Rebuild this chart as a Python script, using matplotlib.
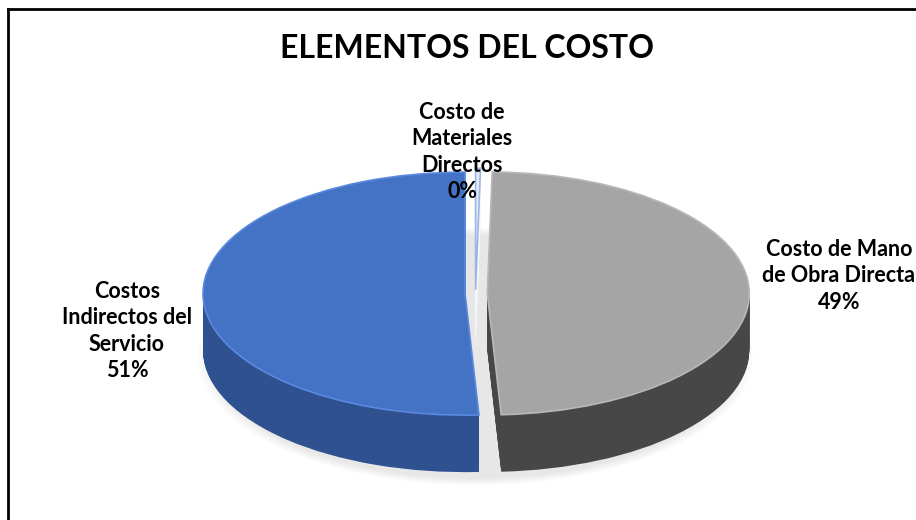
import matplotlib
matplotlib.use("Agg")
import matplotlib.pyplot as plt
from matplotlib.lines import Line2D

# ---- data ----
categories = ["Costo de\nMateriales\nDirectos", "Costo de Mano\nde Obra Directa", "Costos\nIndirectos del\nServicio"]
values = [0.3, 49.0, 51.0]          # share of total cost (materials ~0%)
pct_labels = ["0%", "49%", "51%"]
title = "ELEMENTOS DEL COSTO"

top_colors = ["#e4ebf8", "#a5a5a5", "#4472c4"]
side_colors = ["#f5f7fb", "#474747", "#2f5190"]
rim_colors = ["#9db5e3", "#b8b8b8", "#5a8ae0"]
explode = [0.03, 0.045, 0.04]

W, H = 916, 520
fig = plt.figure(figsize=(W / 100, H / 100), dpi=100)
fig.patch.set_facecolor("white")
ax = fig.add_axes([0, 0, 1, 1])

# ellipse geometry (pixels)
cx, cy, a, b, depth = 475.5, 293.5, 262.0, 121.5, 57.0
d = depth / b
nlayers = 60

# soft shadow
for k in range(8):
    r = 1.06 - k * 0.008
    ax.pie([1], radius=r, center=(0, -d - 0.05), colors=["#000000"],
           wedgeprops=dict(alpha=0.011, linewidth=0))

# side walls: stacked layers
for i in range(nlayers + 1):
    y0 = -d + d * i / nlayers
    ax.pie(values, startangle=90, counterclock=False, explode=explode,
           center=(0, y0), colors=side_colors,
           wedgeprops=dict(linewidth=0))

# top face
ax.pie(values, startangle=90, counterclock=False, explode=explode,
       center=(0, 0), colors=top_colors,
       wedgeprops=dict(linewidth=1.2))
for w, ec in zip(ax.patches[-3:], rim_colors):
    w.set_edgecolor(ec)

ax.set_aspect("auto")
ax.set_xlim((0 - cx) / a, (W - cx) / a)
ax.set_ylim((cy - H) / b, cy / b)
ax.axis("off")

def ftext(x, y, s, **kw):
    fig.text(x / W, 1 - y / H, s, **kw)

font = "Lato"
ftext(467, 48, title, ha="center", va="center", fontsize=23,
      fontweight="bold", family=font, color="black")

lab_kw = dict(ha="center", va="center", fontsize=15.5, fontweight="bold",
              family=font, color="black", linespacing=1.33)
ftext(462, 152, categories[0] + "\n" + pct_labels[0], **lab_kw)
ftext(839, 276, categories[1] + "\n" + pct_labels[1], **lab_kw)
ftext(127, 331, categories[2] + "\n" + pct_labels[2], **lab_kw)

# chart frame (left & top edges visible)
fig.add_artist(Line2D([8 / W, 8 / W], [0, 1 - 9 / H], transform=fig.transFigure,
                      color="black", linewidth=2))
fig.add_artist(Line2D([8 / W, 1], [1 - 9 / H, 1 - 9 / H], transform=fig.transFigure,
                      color="black", linewidth=2))

fig.savefig("out.png", dpi=100)
